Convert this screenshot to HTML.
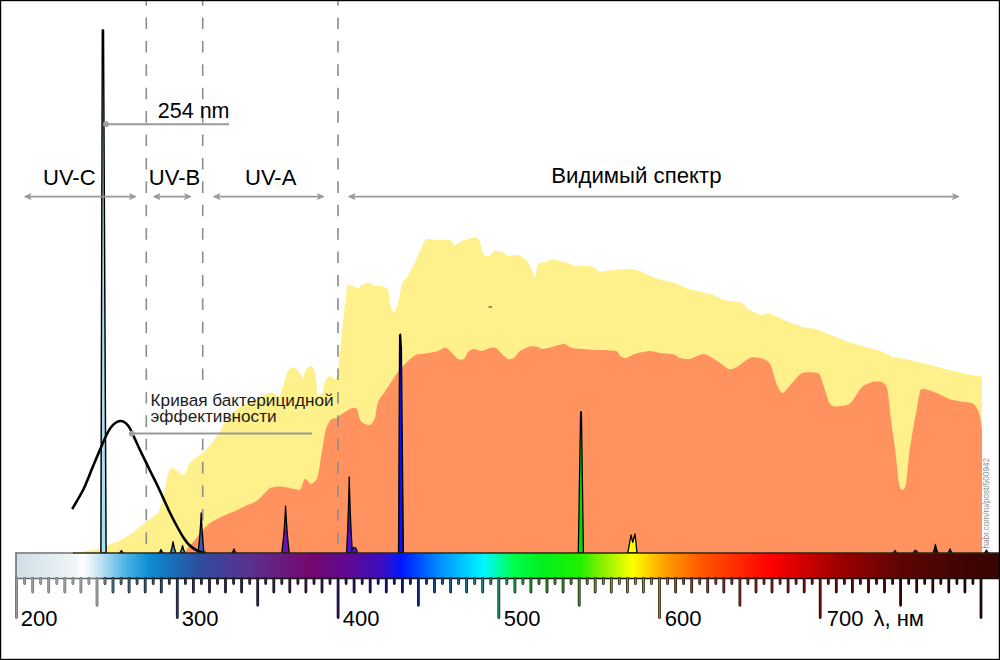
<!DOCTYPE html>
<html><head><meta charset="utf-8"><title>UV spectrum</title>
<style>
html,body{margin:0;padding:0;background:#fff;}
body{width:1000px;height:660px;overflow:hidden;position:relative;}
svg{display:block;position:absolute;left:0;top:0;}
text{font-family:"Liberation Sans",sans-serif;}
</style></head><body>
<svg width="1000" height="660" viewBox="0 0 1000 660">
<defs>
<linearGradient id="spec" gradientUnits="userSpaceOnUse" x1="16" y1="0" x2="999" y2="0"><stop offset="0.0000" stop-color="#cfdfe6"/><stop offset="0.0610" stop-color="#f0f6f8"/><stop offset="0.0682" stop-color="#ffffff"/><stop offset="0.0844" stop-color="#c4e4f3"/><stop offset="0.1109" stop-color="#50b4e6"/><stop offset="0.1363" stop-color="#0a8cd4"/><stop offset="0.1617" stop-color="#1a6cb6"/><stop offset="0.1872" stop-color="#2f4d9c"/><stop offset="0.2380" stop-color="#5a3090"/><stop offset="0.2991" stop-color="#75086e"/><stop offset="0.3398" stop-color="#5e0a96"/><stop offset="0.3723" stop-color="#3a10c0"/><stop offset="0.3927" stop-color="#0018ff"/><stop offset="0.4313" stop-color="#0090ff"/><stop offset="0.4761" stop-color="#00f8ff"/><stop offset="0.5056" stop-color="#00ff50"/><stop offset="0.5331" stop-color="#00f020"/><stop offset="0.5738" stop-color="#20f000"/><stop offset="0.5941" stop-color="#80f000"/><stop offset="0.6277" stop-color="#ffff00"/><stop offset="0.6602" stop-color="#ffa000"/><stop offset="0.6958" stop-color="#ff5a00"/><stop offset="0.7670" stop-color="#ff0000"/><stop offset="0.8362" stop-color="#a00000"/><stop offset="0.8993" stop-color="#5e0404"/><stop offset="0.9603" stop-color="#420404"/><stop offset="1.0000" stop-color="#3a0404"/></linearGradient>
<linearGradient id="tick" gradientUnits="userSpaceOnUse" x1="16" y1="0" x2="999" y2="0"><stop offset="0.0000" stop-color="#9a9a9a"/><stop offset="0.0814" stop-color="#9aa0a4"/><stop offset="0.0987" stop-color="#3a7a99"/><stop offset="0.1312" stop-color="#1d5d8f"/><stop offset="0.1638" stop-color="#1a3a80"/><stop offset="0.2482" stop-color="#2a1a60"/><stop offset="0.2940" stop-color="#3a0a50"/><stop offset="0.3276" stop-color="#2a0a60"/><stop offset="0.3601" stop-color="#1a0a6a"/><stop offset="0.3906" stop-color="#10106a"/><stop offset="0.4212" stop-color="#103a8a"/><stop offset="0.4517" stop-color="#1a6a8a"/><stop offset="0.4771" stop-color="#1a8080"/><stop offset="0.4914" stop-color="#1a8a6a"/><stop offset="0.5076" stop-color="#10a040"/><stop offset="0.5331" stop-color="#109010"/><stop offset="0.5738" stop-color="#3a9010"/><stop offset="0.6063" stop-color="#7a9a10"/><stop offset="0.6348" stop-color="#9a9010"/><stop offset="0.6551" stop-color="#b08010"/><stop offset="0.6755" stop-color="#a04a10"/><stop offset="0.7162" stop-color="#a02010"/><stop offset="0.7670" stop-color="#901010"/><stop offset="0.8189" stop-color="#6a0808"/><stop offset="0.8993" stop-color="#3a0505"/><stop offset="1.0000" stop-color="#200505"/></linearGradient>
<linearGradient id="tickout" gradientUnits="userSpaceOnUse" x1="16" y1="0" x2="999" y2="0"><stop offset="0" stop-color="#6e6e6e"/><stop offset="0.0834" stop-color="#6e6e6e"/><stop offset="0.0915" stop-color="#1a1616"/><stop offset="1" stop-color="#140e0e"/></linearGradient>
</defs>
<rect x="0" y="0" width="1000" height="660" fill="#fff"/>
<path d="M72,553 C73.4,552.8 80.8,552 84,551.5 C87.2,551 96.8,549.5 99.6,548.8 C102.4,548.1 105.6,546.2 108,545.2 C110.4,544.2 117.2,541.8 120,540.4 C122.8,539 129.2,535.2 132,533.2 C134.8,531.2 141.5,525.6 144,523.6 C146.5,521.6 151.9,517.7 153.6,516.4 C155.3,515.1 157.6,514.1 158.4,512.8 C159.2,511.5 160.2,507.4 160.8,505.6 C161.4,503.8 162.6,499.5 163.2,497.2 C163.8,494.9 165,488.7 165.6,486 C166.2,483.3 167.4,476 168,474 C168.6,472 170.4,469.7 171,469 C171.6,468.3 171.5,467.3 173,468 C174.5,468.7 182.1,475.5 184,475 C185.9,474.5 187.6,466 189,464 C190.4,462 194,459.6 196,458 C198,456.4 203.9,452.1 206,450 C208.1,447.9 212.4,442.1 214,440 C215.6,437.9 218.9,433.8 220,432 C221.1,430.2 221.8,426.9 223,425 C224.2,423.1 228.4,417.9 230,416 C231.6,414.1 235.2,410.4 237,409 C238.8,407.6 242.8,405.1 245,404 C247.2,402.9 253.6,401.2 256,400 C258.4,398.8 264,394.8 266,394 C268,393.2 271.5,392.6 273,393 C274.5,393.4 278.1,397.1 279,397 C279.9,396.9 279.9,395 281,392 C282.1,389 286.4,373.8 288,371 C289.6,368.2 293,367.2 294.5,367.6 C296,368 299.6,372.7 300.6,374 C301.6,375.3 302.4,379.4 303,379 C303.6,378.6 304.6,372.1 305.5,370.6 C306.4,369.1 309.3,365.9 310.3,365.8 C311.3,365.7 313.3,367.6 314,369.4 C314.7,371.2 316,378.5 316.4,381.5 C316.8,384.5 316.9,393.4 317.6,394.8 C318.3,396.2 321.6,395.2 322.4,393.6 C323.2,392 323.9,383.6 324.8,381.5 C325.7,379.4 328.6,376.3 329.7,376 C330.8,375.7 333.6,378.9 334.5,379 C335.4,379.1 336.4,379.3 337,376.7 C337.6,374.1 338.8,362.2 339.4,357 C340,351.8 341.1,340.1 342,332 C342.9,323.9 346.1,293.5 347,288 C347.9,282.5 348.7,285 350,285 C351.3,285 356.4,288.1 358,288 C359.6,287.9 362.6,284.6 364,284 C365.4,283.4 368.8,282.8 370,283 C371.2,283.2 372.6,285.6 374,286 C375.4,286.4 380.4,285.5 382,286 C383.6,286.5 387.1,287.9 388,290 C388.9,292.1 389.3,301.4 390,304 C390.7,306.6 393.1,312 394,312 C394.9,312 397.1,307.3 398,304 C398.9,300.7 400.8,287.3 402,284 C403.2,280.7 406.4,278.8 408,276 C409.6,273.2 414.1,264 416,260 C417.9,256 422.6,244.4 424,242 C425.4,239.6 426.6,239.2 428,239 C429.4,238.8 433.4,239.9 436,240 C438.6,240.1 447.9,239.4 450,240 C452.1,240.6 452.6,244.9 454,245 C455.4,245.1 459.7,241.9 462,241 C464.3,240.1 472,237.7 474,237.6 C476,237.5 477.8,238 479,240 C480.2,242 482.7,253.2 484,255 C485.3,256.8 488.8,256.1 490,255.6 C491.2,255.1 492.6,251.4 494,251 C495.4,250.6 500.4,251.4 502,252 C503.6,252.6 506.1,255.7 508,256 C509.9,256.4 515.9,254.5 518,255 C520.1,255.5 524.5,258.5 526,260 C527.5,261.5 530,266 531,268 C532,270 534.2,277.5 535,277 C535.8,276.5 536.7,265.8 538,264 C539.3,262.2 544.4,262.5 546,262 C547.6,261.5 550.4,259.7 552,259.6 C553.6,259.5 558.1,260.6 560,261 C561.9,261.4 566.1,262.4 568,263 C569.9,263.6 574.6,266.1 576,266.4 C577.4,266.7 577.9,265.5 580,265.6 C582.1,265.7 591.7,266.3 594,267 C596.3,267.7 596.5,271.4 600,271.6 C603.5,271.8 619.6,269.1 624,269 C628.4,268.9 635.2,269.7 638,270.4 C640.8,271.1 645.4,273.9 648,275 C650.6,276.1 656.7,278.6 660,279.6 C663.3,280.6 673,282.6 676,283.6 C679,284.6 683.2,287.1 686,288 C688.8,288.9 697,290.8 700,291.6 C703,292.4 709.2,293.6 712,294.6 C714.8,295.6 720.5,299 724,300 C727.5,301 739.2,301.9 742,303 C744.8,304.1 745.7,307.6 748,309 C750.3,310.4 759,314.5 761.5,315 C764,315.5 765.7,312.6 769,313.5 C772.3,314.4 785.8,320.9 790,322.5 C794.2,324.1 801.9,326.8 805,327.6 C808.1,328.4 813.9,328.5 817,329.4 C820.1,330.3 827.8,333.8 832,335.4 C836.2,337 847.4,341.7 853,343.5 C858.6,345.3 875.5,349.5 880,351 C884.5,352.5 888.5,355.3 892,356.4 C895.5,357.4 904.4,358.7 910,360 C915.6,361.3 933.7,365.9 940,367.5 C946.3,369.1 959.2,372.4 964,373.5 C968.8,374.6 978.9,376.1 981,376.5 C983.1,376.9 981.9,376.5 982,376.5 L982,553 Z" fill="#fef08a"/>
<path d="M184,553 C184.3,552.5 185.7,550.5 187,549 C188.3,547.5 193.2,542.2 195,540 C196.8,537.8 200.7,532.5 202.4,530.5 C204.2,528.5 207.9,524.5 210,523 C212.1,521.5 217,519 220,517.5 C223,516 232.6,512 236,510.5 C239.4,509 246.2,505.7 248.8,504.5 C251.4,503.3 256.2,501.2 258,500 C259.8,498.8 262.6,495.4 264,494 C265.4,492.6 268.2,488.9 270,488 C271.8,487.1 276.7,486.4 279,486.4 C281.3,486.4 287.2,487.5 289.7,487.9 C292.2,488.2 298.5,490.5 300.3,489.4 C302.1,488.3 303.6,479.4 304.8,478.8 C306,478.2 309.6,484 311,484 C312.4,484 315.9,481.2 317,478.8 C318.1,476.4 319.3,467.5 320,463.6 C320.7,459.7 322.3,449.6 323,445.5 C323.7,441.4 325.1,431.8 326,428.8 C326.9,425.8 329.4,421 330.6,419.7 C331.8,418.4 335.3,418.7 336.7,418 C338.1,417.3 340.9,414.7 342.7,413.6 C344.5,412.5 350.1,408.8 351.8,408.3 C353.5,407.8 356.1,407.9 357,409 C357.9,410.1 358.8,416.4 359.4,418 C360,419.6 361.2,421.9 362.4,422.7 C363.6,423.5 368.5,425.5 370,425 C371.5,424.5 374.1,420.7 375,418 C375.9,415.3 376.7,405.3 378,402 C379.3,398.7 383.7,393.5 386,390 C388.3,386.5 395.4,375.4 398,372 C400.6,368.6 405.9,363 408,361 C410.1,359 413.9,355.9 416,355 C418.1,354.1 423.4,354.1 426,353.6 C428.6,353.1 435.8,351.7 438,351 C440.2,350.3 443.6,347.6 445,347.6 C446.4,347.6 448.5,349.7 450,351 C451.5,352.3 456.4,358.1 458,359 C459.6,359.9 462.8,359.8 464,359 C465.2,358.2 466.8,353.2 468,352 C469.2,350.8 472.4,349.1 474,349 C475.6,348.9 480.1,351.1 482,351 C483.9,350.9 488.4,348.4 490,348 C491.6,347.6 494.6,347.3 496,348 C497.4,348.7 500.6,352.7 502,354 C503.4,355.3 506.6,358.5 508,359 C509.4,359.5 512.6,358.9 514,358 C515.4,357.1 518.1,352.4 520,351 C521.9,349.6 527.9,346.9 530,346.4 C532.1,345.9 536.6,346.7 538,347 C539.4,347.3 540.4,349 542,349 C543.6,349 549.4,347.6 552,347 C554.6,346.4 561.7,343.9 564,344 C566.3,344.1 569,347.3 572,348 C575,348.7 584.9,349.2 590,349.6 C595.1,350 612.5,350.3 616,351 C619.5,351.7 618.8,355.2 620,356 C621.2,356.8 624.1,358.3 626,358 C627.9,357.7 633.2,354.4 636,353.6 C638.8,352.8 647.2,351.1 650,351 C652.8,350.9 657.2,352.6 660,353 C662.8,353.4 671.7,353.8 674,354.4 C676.3,355 678.1,357.5 680,358 C681.9,358.5 687.2,359.5 690,359 C692.8,358.5 700.7,353.7 704,354 C707.3,354.3 715.1,359.8 718,361.5 C720.9,363.2 726.4,368.3 728.5,369 C730.6,369.7 733.4,368.8 736,367.5 C738.6,366.2 747.9,358.6 751,357.6 C754.1,356.6 760.7,358 763,358.8 C765.3,359.6 768.9,361.6 770.5,364.5 C772.1,367.4 775.1,380.7 776.5,384 C777.9,387.3 780.9,392.8 782.5,393 C784.1,393.2 787.7,387.8 790,385.5 C792.3,383.2 798.7,374.4 802,373 C805.3,371.6 816,372.2 818.5,373.5 C821,374.8 821.8,380.7 823,384 C824.2,387.3 827.6,399.4 829,402 C830.4,404.6 832.5,406.3 835,406.5 C837.5,406.7 846.9,405.8 850,403.5 C853.1,401.2 859.2,389.6 862,387 C864.8,384.4 871.5,382.1 874,381.6 C876.5,381.1 881.4,381.5 883,382.5 C884.6,383.5 886.6,385.6 887.5,390 C888.4,394.4 890.1,413.2 891,420 C891.9,426.8 894.1,440.6 895,448 C895.9,455.4 898.2,478.1 899,483 C899.8,487.9 901.2,489.8 902,490 C902.8,490.2 905.2,488.5 906,484.4 C906.8,480.3 908,462.5 909,455 C910,447.5 913.8,424.8 914.6,420 C915.4,415.2 915.3,417.5 916,414 C916.7,410.5 919.1,392.8 920.5,390 C921.9,387.2 925.7,389.5 928,390 C930.3,390.5 937.5,393.4 940,394.5 C942.5,395.6 946.5,398.2 949,399 C951.5,399.8 958.2,400.9 961,401.4 C963.8,401.9 970.9,402.2 973,403.5 C975.1,404.8 978.1,410.2 979,412.5 C979.9,414.8 980.6,421 981,423 C981.4,425 981.9,429.2 982,430 L982,553 Z" fill="#ff925e"/>
<line x1="146.3" y1="-5.9" x2="146.3" y2="552" stroke="#8c8c8c" stroke-width="1.6" stroke-dasharray="11.6 11.8"/><line x1="202.7" y1="-5.9" x2="202.7" y2="552" stroke="#8c8c8c" stroke-width="1.6" stroke-dasharray="11.6 11.8"/><line x1="338" y1="-5.9" x2="338" y2="552" stroke="#8c8c8c" stroke-width="1.6" stroke-dasharray="11.6 11.8"/>
<rect x="200" y="381" width="6" height="48" fill="#fff"/>
<!-- 254 spike -->
<path d="M100.9,553 L102.3,30 L103.5,30 L106.1,553 Z" fill="#a8e2f2" stroke="#000" stroke-width="1.45" stroke-linejoin="round"/>
<path d="M170.5,553 C171.5,550.1 172.4,546.7 173,541.6 C173.8,546.7 174.8,550.1 176,553 Z" fill="#3d8fd6" stroke="#000" stroke-width="1.3" stroke-linejoin="round"/><path d="M180,553 C181,551.2 181.9,549 182.6,545.7 C183.2,549 184,551.2 185,553 Z" fill="#3d8fd6" stroke="#000" stroke-width="1.3" stroke-linejoin="round"/><path d="M198,553 C199.3,543 200.4,530.9 201.2,512.8 C201.9,530.9 202.9,543 204,553 Z" fill="#3a5ab5" stroke="#000" stroke-width="1.3" stroke-linejoin="round"/><path d="M281.8,553 C283.3,541.2 284.7,527.1 285.6,506 C286.5,527.1 287.8,541.2 289.2,553 Z" fill="#6a14b4" stroke="#000" stroke-width="1.3" stroke-linejoin="round"/><path d="M346.6,553 C347.6,534 348.6,511.2 349.2,477 C350,511.2 351.1,534 352.4,553 Z" fill="#5410d0" stroke="#000" stroke-width="1.3" stroke-linejoin="round"/><path d="M119.5,553 C120.3,552.4 120.9,551.6 121.4,550.5 C121.9,551.6 122.7,552.4 123.5,553 Z" fill="#88c0e0" stroke="#000" stroke-width="1.3" stroke-linejoin="round"/><path d="M159,553 C159.8,552.1 160.5,551.1 161,549.5 C161.5,551.1 162.2,552.1 163,553 Z" fill="#4a90d0" stroke="#000" stroke-width="1.3" stroke-linejoin="round"/><path d="M232,553 C232.8,552 233.5,550.8 234,549 C234.5,550.8 235.2,552 236,553 Z" fill="#4a3a9a" stroke="#000" stroke-width="1.3" stroke-linejoin="round"/><path d="M893,553 C893.8,552.4 894.5,551.6 895,550.5 C895.5,551.6 896.2,552.4 897,553 Z" fill="#600000" stroke="#000" stroke-width="1.3" stroke-linejoin="round"/><path d="M933,553 C934,550.9 934.8,548.3 935.4,544.5 C936,548.3 937,550.9 938,553 Z" fill="#400000" stroke="#000" stroke-width="1.3" stroke-linejoin="round"/><path d="M948,553 C948.8,552 949.5,550.8 950,549 C950.5,550.8 951.2,552 952,553 Z" fill="#400000" stroke="#000" stroke-width="1.3" stroke-linejoin="round"/><path d="M984.5,553 C985.3,552.2 985.9,551.4 986.4,550 C986.9,551.4 987.7,552.2 988.5,553 Z" fill="#300000" stroke="#000" stroke-width="1.3" stroke-linejoin="round"/><path d="M398.6,553 L399.7,335 L400.5,334.3 L401.3,348 L403.3,553 Z" fill="#1010ff" stroke="#000" stroke-width="1.5" stroke-linejoin="round"/><path d="M578.3,553 L580.6,412 L581.4,412 L583.4,553 Z" fill="#00dd00" stroke="#000" stroke-width="1.3" stroke-linejoin="round"/><path d="M627.8,553 L631,535 L632.7,542.4 L635,534 L637,553 Z" fill="#ffff00" stroke="#000" stroke-width="1.3" stroke-linejoin="round"/><path d="M351.5,553 C352,546 356,545 357.5,553 Z" fill="#5410d0" stroke="#000" stroke-width="1.1"/><path d="M913,553 Q915.6,547 918,553 Z" fill="#500000" stroke="#000" stroke-width="1"/>
<path d="M72.7,508.2 C74.2,505.6 80.9,494.5 83.6,489 C86.3,483.5 90.3,472.8 92.7,467 C95.1,461.2 99.8,450.2 101.8,445.5 C103.8,440.8 106.6,434.6 108,432 C109.4,429.4 110.9,427.3 112,426 C113.1,424.7 114.9,423.2 116,422.5 C117.1,421.8 118.9,421.1 120,421 C121.1,420.9 122.9,421.2 124,421.8 C125.1,422.4 127.1,424.3 128,425.5 C128.9,426.7 129.5,427.4 131,430.5 C132.5,433.6 137.1,443.9 139.5,449 C141.9,454.1 146.5,463.3 149,468.5 C151.5,473.7 155.9,482.3 158.6,488 C161.3,493.7 166.7,505.9 169.1,511 C171.5,516.1 174.9,522.5 176.8,526 C178.7,529.5 181.7,535 183.4,537.5 C185.1,540 187.5,543.4 189.2,545 C190.9,546.6 194.1,548.8 195.8,549.8 C197.5,550.8 200.4,551.8 201.6,552.2 C202.8,552.6 204.5,552.7 205,552.8" fill="none" stroke="#000" stroke-width="2.6" stroke-linecap="round"/>
<!-- connectors -->
<line x1="106" y1="124.2" x2="229" y2="124.2" stroke="#9a9a9a" stroke-width="2"/>
<circle cx="106" cy="124.2" r="2.9" fill="#9f9f9f"/>
<line x1="131.8" y1="433.6" x2="312" y2="433.6" stroke="#9a9a9a" stroke-width="2"/>
<circle cx="131.8" cy="433.6" r="2.9" fill="#9f9f9f"/>
<rect x="488.5" y="306.2" width="3.5" height="1.4" fill="#6a6a40"/>
<!-- arrows -->
<line x1="26.5" y1="196.6" x2="134" y2="196.6" stroke="#999" stroke-width="1.6"/><path d="M24.5,196.6 L31.0,193.79999999999998 L29.0,196.6 L31.0,199.4 Z" fill="#999" stroke="#999" stroke-width="0.9" stroke-linejoin="round"/><path d="M136,196.6 L129.5,193.79999999999998 L131.5,196.6 L129.5,199.4 Z" fill="#999" stroke="#999" stroke-width="0.9" stroke-linejoin="round"/><line x1="155.5" y1="196.6" x2="189" y2="196.6" stroke="#999" stroke-width="1.6"/><path d="M153.5,196.6 L160.0,193.79999999999998 L158.0,196.6 L160.0,199.4 Z" fill="#999" stroke="#999" stroke-width="0.9" stroke-linejoin="round"/><path d="M191,196.6 L184.5,193.79999999999998 L186.5,196.6 L184.5,199.4 Z" fill="#999" stroke="#999" stroke-width="0.9" stroke-linejoin="round"/><line x1="215.5" y1="196.6" x2="322" y2="196.6" stroke="#999" stroke-width="1.6"/><path d="M213.5,196.6 L220.0,193.79999999999998 L218.0,196.6 L220.0,199.4 Z" fill="#999" stroke="#999" stroke-width="0.9" stroke-linejoin="round"/><path d="M324,196.6 L317.5,193.79999999999998 L319.5,196.6 L317.5,199.4 Z" fill="#999" stroke="#999" stroke-width="0.9" stroke-linejoin="round"/><line x1="350.5" y1="196.6" x2="957" y2="196.6" stroke="#999" stroke-width="1.6"/><path d="M348.5,196.6 L355.0,193.79999999999998 L353.0,196.6 L355.0,199.4 Z" fill="#999" stroke="#999" stroke-width="0.9" stroke-linejoin="round"/><path d="M959,196.6 L952.5,193.79999999999998 L954.5,196.6 L952.5,199.4 Z" fill="#999" stroke="#999" stroke-width="0.9" stroke-linejoin="round"/>
<!-- spectrum bar -->
<rect x="16" y="553" width="983" height="25.5" fill="url(#spec)"/>
<path d="M16,618 V553 H74" fill="none" stroke="#707070" stroke-width="1.6"/><path d="M73,553 H999" fill="none" stroke="#2a2618" stroke-width="1.6"/>
<path d="M16.6,578.5 V617.6 M24.6,578.5 V583.6 M32.7,578.5 V592 M40.7,578.5 V583.6 M48.7,578.5 V592 M56.8,578.5 V583.6 M64.8,578.5 V592 M72.9,578.5 V583.6 M80.9,578.5 V592 M88.9,578.5 V583.6 M97,578.5 V605.3 M105,578.5 V583.6 M113,578.5 V592 M121.1,578.5 V583.6 M129.1,578.5 V592 M137.1,578.5 V583.6 M145.2,578.5 V592 M153.2,578.5 V583.6 M161.3,578.5 V592 M169.3,578.5 V583.6 M177.3,578.5 V617.6 M185.4,578.5 V583.6 M193.4,578.5 V592 M201.4,578.5 V583.6 M209.5,578.5 V592 M217.5,578.5 V583.6 M225.5,578.5 V592 M233.6,578.5 V583.6 M241.6,578.5 V592 M249.7,578.5 V583.6 M257.7,578.5 V605.3 M265.7,578.5 V583.6 M273.8,578.5 V592 M281.8,578.5 V583.6 M289.8,578.5 V592 M297.9,578.5 V583.6 M305.9,578.5 V592 M314,578.5 V583.6 M322,578.5 V592 M330,578.5 V583.6 M338.1,578.5 V617.6 M346.1,578.5 V583.6 M354.1,578.5 V592 M362.2,578.5 V583.6 M370.2,578.5 V592 M378.2,578.5 V583.6 M386.3,578.5 V592 M394.3,578.5 V583.6 M402.4,578.5 V592 M410.4,578.5 V583.6 M418.4,578.5 V605.3 M426.5,578.5 V583.6 M434.5,578.5 V592 M442.5,578.5 V583.6 M450.6,578.5 V592 M458.6,578.5 V583.6 M466.6,578.5 V592 M474.7,578.5 V583.6 M482.7,578.5 V592 M490.8,578.5 V583.6 M498.8,578.5 V617.6 M506.8,578.5 V583.6 M514.9,578.5 V592 M522.9,578.5 V583.6 M530.9,578.5 V592 M539,578.5 V583.6 M547,578.5 V592 M555,578.5 V583.6 M563.1,578.5 V592 M571.1,578.5 V583.6 M579.2,578.5 V605.3 M587.2,578.5 V583.6 M595.2,578.5 V592 M603.3,578.5 V583.6 M611.3,578.5 V592 M619.3,578.5 V583.6 M627.4,578.5 V592 M635.4,578.5 V583.6 M643.4,578.5 V592 M651.5,578.5 V583.6 M659.5,578.5 V617.6 M667.6,578.5 V583.6 M675.6,578.5 V592 M683.6,578.5 V583.6 M691.7,578.5 V592 M699.7,578.5 V583.6 M707.7,578.5 V592 M715.8,578.5 V583.6 M723.8,578.5 V592 M731.8,578.5 V583.6 M739.9,578.5 V605.3 M747.9,578.5 V583.6 M756,578.5 V592 M764,578.5 V583.6 M772,578.5 V592 M780.1,578.5 V583.6 M788.1,578.5 V592 M796.1,578.5 V583.6 M804.2,578.5 V592 M812.2,578.5 V583.6 M820.2,578.5 V617.6 M828.3,578.5 V583.6 M836.3,578.5 V592 M844.4,578.5 V583.6 M852.4,578.5 V592 M860.4,578.5 V583.6 M868.5,578.5 V592 M876.5,578.5 V583.6 M884.5,578.5 V592 M892.6,578.5 V583.6 M900.6,578.5 V605.3 M908.7,578.5 V583.6 M916.7,578.5 V592 M924.7,578.5 V583.6 M932.8,578.5 V592 M940.8,578.5 V583.6 M948.8,578.5 V592 M956.9,578.5 V583.6 M964.9,578.5 V592 M972.9,578.5 V583.6 M981,578.5 V617.6" stroke="url(#tickout)" stroke-width="2.8" stroke-linecap="round"/>
<path d="M16,578.4 H999" stroke="url(#tickout)" stroke-width="1.5"/>
<path d="M16.6,578.5 V617.6 M24.6,578.5 V583.6 M32.7,578.5 V592 M40.7,578.5 V583.6 M48.7,578.5 V592 M56.8,578.5 V583.6 M64.8,578.5 V592 M72.9,578.5 V583.6 M80.9,578.5 V592 M88.9,578.5 V583.6 M97,578.5 V605.3 M105,578.5 V583.6 M113,578.5 V592 M121.1,578.5 V583.6 M129.1,578.5 V592 M137.1,578.5 V583.6 M145.2,578.5 V592 M153.2,578.5 V583.6 M161.3,578.5 V592 M169.3,578.5 V583.6 M177.3,578.5 V617.6 M185.4,578.5 V583.6 M193.4,578.5 V592 M201.4,578.5 V583.6 M209.5,578.5 V592 M217.5,578.5 V583.6 M225.5,578.5 V592 M233.6,578.5 V583.6 M241.6,578.5 V592 M249.7,578.5 V583.6 M257.7,578.5 V605.3 M265.7,578.5 V583.6 M273.8,578.5 V592 M281.8,578.5 V583.6 M289.8,578.5 V592 M297.9,578.5 V583.6 M305.9,578.5 V592 M314,578.5 V583.6 M322,578.5 V592 M330,578.5 V583.6 M338.1,578.5 V617.6 M346.1,578.5 V583.6 M354.1,578.5 V592 M362.2,578.5 V583.6 M370.2,578.5 V592 M378.2,578.5 V583.6 M386.3,578.5 V592 M394.3,578.5 V583.6 M402.4,578.5 V592 M410.4,578.5 V583.6 M418.4,578.5 V605.3 M426.5,578.5 V583.6 M434.5,578.5 V592 M442.5,578.5 V583.6 M450.6,578.5 V592 M458.6,578.5 V583.6 M466.6,578.5 V592 M474.7,578.5 V583.6 M482.7,578.5 V592 M490.8,578.5 V583.6 M498.8,578.5 V617.6 M506.8,578.5 V583.6 M514.9,578.5 V592 M522.9,578.5 V583.6 M530.9,578.5 V592 M539,578.5 V583.6 M547,578.5 V592 M555,578.5 V583.6 M563.1,578.5 V592 M571.1,578.5 V583.6 M579.2,578.5 V605.3 M587.2,578.5 V583.6 M595.2,578.5 V592 M603.3,578.5 V583.6 M611.3,578.5 V592 M619.3,578.5 V583.6 M627.4,578.5 V592 M635.4,578.5 V583.6 M643.4,578.5 V592 M651.5,578.5 V583.6 M659.5,578.5 V617.6 M667.6,578.5 V583.6 M675.6,578.5 V592 M683.6,578.5 V583.6 M691.7,578.5 V592 M699.7,578.5 V583.6 M707.7,578.5 V592 M715.8,578.5 V583.6 M723.8,578.5 V592 M731.8,578.5 V583.6 M739.9,578.5 V605.3 M747.9,578.5 V583.6 M756,578.5 V592 M764,578.5 V583.6 M772,578.5 V592 M780.1,578.5 V583.6 M788.1,578.5 V592 M796.1,578.5 V583.6 M804.2,578.5 V592 M812.2,578.5 V583.6 M820.2,578.5 V617.6 M828.3,578.5 V583.6 M836.3,578.5 V592 M844.4,578.5 V583.6 M852.4,578.5 V592 M860.4,578.5 V583.6 M868.5,578.5 V592 M876.5,578.5 V583.6 M884.5,578.5 V592 M892.6,578.5 V583.6 M900.6,578.5 V605.3 M908.7,578.5 V583.6 M916.7,578.5 V592 M924.7,578.5 V583.6 M932.8,578.5 V592 M940.8,578.5 V583.6 M948.8,578.5 V592 M956.9,578.5 V583.6 M964.9,578.5 V592 M972.9,578.5 V583.6 M981,578.5 V617.6" stroke="url(#tick)" stroke-width="1.5" stroke-linecap="round"/>
<!-- labels -->
<g font-size="22" fill="#000">
<text x="20.8" y="625.8">200</text>
<text x="181.8" y="625.8">300</text>
<text x="342.8" y="625.8">400</text>
<text x="503.8" y="625.8">500</text>
<text x="664.8" y="625.8">600</text>
<text x="826.8" y="625.8">700</text><text x="873.5" y="625.8">λ, нм</text>
<text x="157.8" y="118.4" font-size="21.5">254 nm</text>
<text x="43" y="184.8">UV-C</text>
<text x="148.8" y="184.8">UV-B</text>
<text x="245" y="184.8">UV-A</text>
<text x="551.3" y="182.7" font-size="22.2">Видимый спектр</text>
</g>
<g font-size="17.2" fill="#1c1c1c">
<text x="150.6" y="405.6">Кривая бактерицидной</text>
<text x="150.6" y="422.4">эффективности</text>
</g>
<text transform="translate(989.2,548.5) rotate(-90)" font-size="8.2" fill="#8c8c8c">habr.com/ru/post/500942</text>
<rect x="0.5" y="0.5" width="999" height="659" fill="none" stroke="#000" stroke-width="1.4"/>
</svg>
</body></html>
